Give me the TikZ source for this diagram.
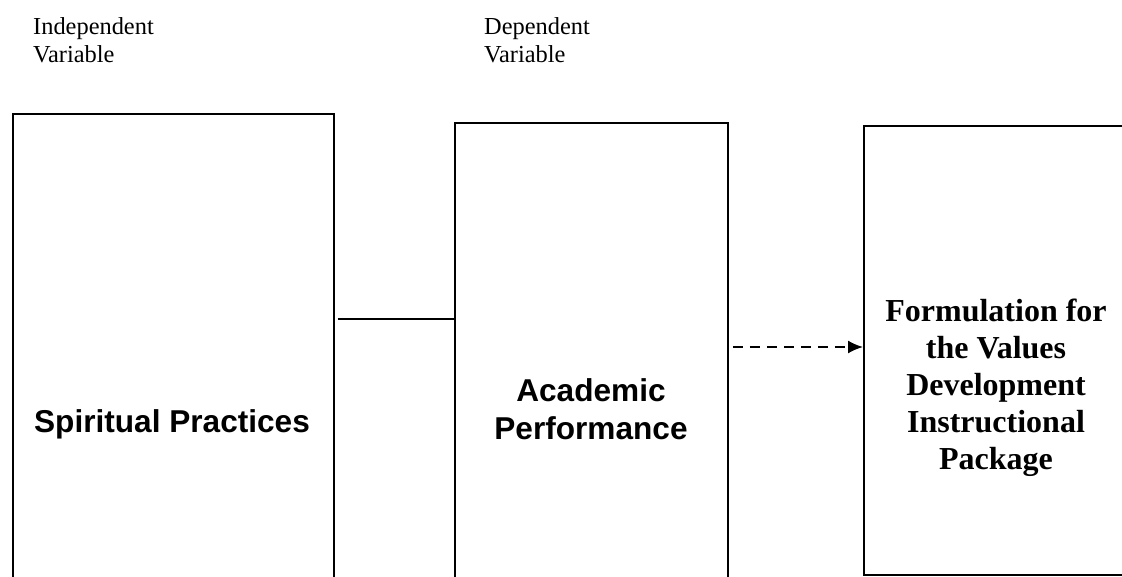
\documentclass[tikz,border=0pt]{standalone}
\usepackage{fontspec}
\setmainfont{Liberation Serif}
\newfontfamily\arialfont{Liberation Sans}
\usetikzlibrary{arrows.meta}
\tikzset{
  boxst/.style={draw=black, line width=1.8pt, anchor=north west, inner sep=0pt},
  headst/.style={anchor=north west, inner sep=0pt, align=left, font=\fontsize{24.4}{28.5}\selectfont},
  sansst/.style={inner sep=0pt, align=center, font=\arialfont\bfseries\fontsize{31.6}{38.5}\selectfont},
  serifst/.style={inner sep=0pt, align=center, font=\bfseries\fontsize{32}{37}\selectfont},
  linkst/.style={draw=black, line width=1.5pt},
  dashst/.style={draw=black, line width=1.8pt, dash pattern=on 10pt off 7pt, -{Latex[length=15pt,width=13pt]}}
}
\begin{document}
\begin{tikzpicture}[x=1pt,y=-1pt]
\useasboundingbox (0,0) rectangle (1122,576);
\clip (0,0) rectangle (1122,576);
\fill[white] (0,0) rectangle (1122,576);
\node[headst] (iv) at (33,17) {Independent\\Variable};
\node[headst] (dv) at (484,17) {Dependent\\Variable};
\node[boxst, minimum width=321pt, minimum height=490pt] (b1) at (12,113) {};
\node[boxst, minimum width=273pt, minimum height=490pt] (b2) at (454,122) {};
\node[boxst, minimum width=270pt, minimum height=449pt] (b3) at (863,125) {};
\node[sansst] (sp) at (172,424) {Spiritual Practices};
\node[sansst] (ap) at (591,409) {Academic\\Performance};
\node[serifst] (fv) at (996,388) {Formulation for\\the Values\\Development\\Instructional\\Package};
\coordinate (ly) at (0,319);
\coordinate (ay) at (0,347);
\draw[linkst] ([xshift=3pt]b1.east |- ly) -- (b2.west |- ly);
\draw[dashst] ([xshift=4pt]b2.east |- ay) -- (b3.west |- ay);
\end{tikzpicture}
\end{document}
